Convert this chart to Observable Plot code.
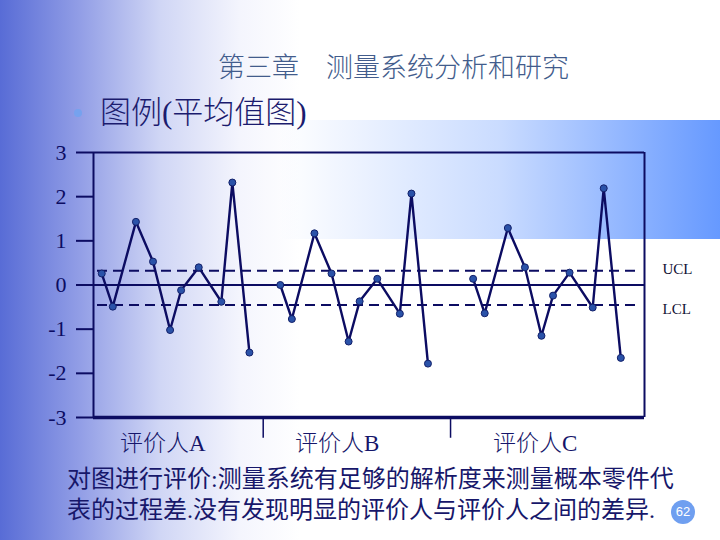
<!DOCTYPE html>
<html>
<head>
<meta charset="utf-8">
<script src="https://cdn.jsdelivr.net/npm/d3@7"></script>
<script src="https://cdn.jsdelivr.net/npm/@observablehq/plot@0.6"></script>
<style>
  html, body { margin: 0; padding: 0; background: #fff; }
  #page { position: relative; width: 720px; height: 540px; overflow: hidden; background: #fff;
          font-family: "Liberation Serif", "Noto Sans CJK SC", serif; }
  .abs { position: absolute; white-space: nowrap; line-height: 1; }
  #leftgrad { left: 0; top: 0; width: 320px; height: 540px;
    background: linear-gradient(90deg, rgb(88,108,214) 0px, rgb(146,158,230) 80px, rgb(208,214,245) 160px, rgb(244,245,253) 240px, rgba(255,255,255,0) 300px); }
  #band { left: 280px; top: 120px; width: 440px; height: 119px;
    background: linear-gradient(90deg, rgba(102,153,255,0) 0%, rgba(102,153,255,0.35) 50%, rgba(102,153,255,1) 100%); }
  #title { left: 218px; top: 52px; font-size: 27px; color: rgb(66,92,140); font-family: "Noto Sans CJK SC", sans-serif; font-weight: 300; }
  #bullet { left: 74px; top: 109px; width: 8px; height: 8px; border-radius: 50%; background: #76a2ee; }
  #heading { left: 100px; top: 97px; font-size: 31px; color: #1b1b6e; font-weight: 300; }
  .grp { top: 432px; font-size: 23px; color: #15156a; font-weight: 300; }
  .note { left: 67px; font-size: 24px; color: #17176a; font-weight: 400; }
  #pnum { left: 671px; top: 500px; width: 24px; height: 24px; border-radius: 50%; background: #6f9ff0;
          color: #fff; font: 13px "Liberation Sans", sans-serif; text-align: center; line-height: 24px; }
  #chart { position: absolute; left: 0; top: 0; }
</style>
</head>
<body>
<div id="page">
  <div id="leftgrad" class="abs"></div>
  <div id="band" class="abs"></div>
  <div id="title" class="abs">第三章　测量系统分析和研究</div>
  <div id="bullet" class="abs"></div>
  <div id="heading" class="abs">图例(平均值图)</div>
  <div id="chart"></div>
  <div class="abs grp" style="left:120px">评价人A</div>
  <div class="abs grp" style="left:295px">评价人B</div>
  <div class="abs grp" style="left:493px">评价人C</div>
  <div class="abs note" style="top:467px">对图进行评价:测量系统有足够的解析度来测量概本零件代</div>
  <div class="abs note" style="top:498px">表的过程差.没有发现明显的评价人与评价人之间的差异.</div>
  <div id="pnum" class="abs">62</div>
</div>
<script>
// ---- data ----
const groups = ["评价人A", "评价人B", "评价人C"];
const posA = [1.5, 3.5, 7.7, 10.8, 13.9, 15.9, 19.1, 23.2, 25.2, 28.3];
const valA = [0.26, -0.49, 1.43, 0.53, -1.02, -0.12, 0.40, -0.38, 2.32, -1.53];
const posB = [33.9, 36.0, 40.1, 43.2, 46.3, 48.3, 51.5, 55.6, 57.7, 60.7];
const valB = [0.00, -0.77, 1.17, 0.26, -1.28, -0.37, 0.14, -0.65, 2.07, -1.78];
const posC = [68.9, 71.0, 75.2, 78.3, 81.3, 83.4, 86.4, 90.6, 92.6, 95.7];
const valC = [0.14, -0.64, 1.29, 0.40, -1.15, -0.24, 0.28, -0.51, 2.19, -1.65];
const centerLine = 0;
const UCL = 0.32;
const LCL = -0.45;
const groupBreaks = [30.8, 64.8];
const yTicks = [3, 2, 1, 0, -1, -2, -3];
const limitLabels = ["UCL", "LCL"];

// ---- build table ----
const series = [[posA, valA], [posB, valB], [posC, valC]];
const points = series.flatMap(([xs, ys], g) => xs.map((x, i) => ({group: groups[g], x, y: ys[i]})));

const navy = "#0c0c62";
const chart = Plot.plot({
  width: 720,
  height: 540,
  marginLeft: 93,
  marginRight: 76,
  marginTop: 152,
  marginBottom: 123,
  x: {domain: [0, 100], axis: null},
  y: {domain: [-3, 3], axis: null},
  style: {background: "transparent", overflow: "visible", fontFamily: "Liberation Serif, serif"},
  marks: [
    Plot.axisY({ticks: yTicks, tickSize: 17, tickPadding: 10, tickFormat: d => String(d),
      fontSize: 22, color: navy, strokeWidth: 2, label: null}),
    Plot.ruleX([0, 100], {stroke: navy, strokeWidth: 2}),
    Plot.ruleY([3], {stroke: navy, strokeWidth: 2}),
    Plot.ruleY([-3], {stroke: navy, strokeWidth: 3.5}),
    Plot.ruleY([centerLine], {stroke: navy, strokeWidth: 2}),
    Plot.ruleY([UCL, LCL], {stroke: navy, strokeWidth: 2, strokeDasharray: "10,6", insetLeft: 4, insetRight: 4}),
    Plot.ruleX(groupBreaks, {y1: -3, y2: -3.47, stroke: navy, strokeWidth: 1.5}),
    Plot.line(points, {x: "x", y: "y", z: "group", stroke: navy, strokeWidth: 2.4}),
    Plot.dot(points, {x: "x", y: "y", r: 3.5, fill: "#2a52a8", stroke: "#13206a", strokeWidth: 1}),
    Plot.text([limitLabels[0]], {x: () => 100, y: () => UCL, text: d => d, dx: 18, dy: -2, textAnchor: "start", fontSize: 15, fill: "#111133"}),
    Plot.text([limitLabels[1]], {x: () => 100, y: () => LCL, text: d => d, dx: 18, dy: 4, textAnchor: "start", fontSize: 15, fill: "#111133"})
  ]
});
document.getElementById("chart").appendChild(chart);
</script>
</body>
</html>
